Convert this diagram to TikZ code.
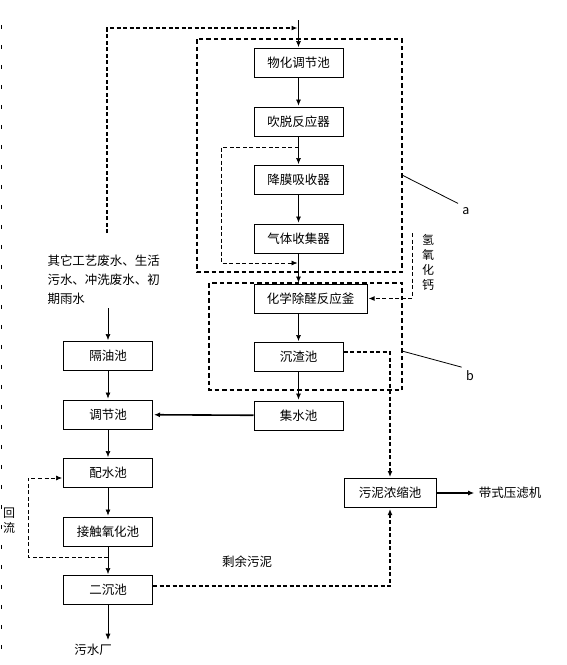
\documentclass[tikz,border=0pt]{standalone}
\usepackage{fontspec}
\setmainfont{Noto Sans CJK SC}
\usetikzlibrary{arrows.meta,positioning}

\begin{document}
\begin{tikzpicture}[x=1pt,y=-1pt,>={Latex[length=6pt,width=5pt]},
    shorten >=1pt,node distance=58.5pt,on grid,
    font=\fontsize{12.5}{15}\selectfont,
    pool/.style={draw,line width=1pt,minimum width=89pt,minimum height=29pt,inner sep=1pt},
    flow/.style={->,line width=0.6pt},
    pipe/.style={->,line width=1.6pt},
    feed/.style={line width=1.3pt,dash pattern=on 4pt off 2.5pt},
    back/.style={line width=0.7pt,dash pattern=on 4pt off 2.5pt},
    zone/.style={line width=1.6pt,dash pattern=on 4.5pt off 3pt}]
  \useasboundingbox (0,0) rectangle (567,665);
  % treatment column
  \node[pool] (phys)                 at (298.5,63)              {物化调节池};
  \node[pool] (strip)                [below=of phys]            {吹脱反应器};
  \node[pool] (absorb)               [below=of strip]           {降膜吸收器};
  \node[pool] (gas)                  [below=of absorb]          {气体收集器};
  \node[pool,minimum width=113pt] (chem) [below=60pt of gas,xshift=12pt] {化学除醛反应釜};
  \node[pool] (sett)                 [below=of chem,xshift=-12pt] {沉渣池};
  \node[pool] (coll)                 [below=of sett]            {集水池};
  % other wastewater column
  \node[pool] (oil)                  at (108,356)               {隔油池};
  \node[pool] (equal)                [below=of oil]             {调节池};
  \node[pool] (distr)                [below=of equal]           {配水池};
  \node[pool] (contact)              [below=of distr]           {接触氧化池};
  \node[pool] (sec)                  [below=of contact]         {二沉池};
  \node[pool,minimum width=92pt] (thick) at (390,493)           {污泥浓缩池};
  % texts
  \node[text width=118pt,align=left,font=\fontsize{12.5}{19}\selectfont]
       (other) at (106.5,280) {其它工艺废水、生活\\污水、冲洗废水、初\\期雨水};
  \node (outlet) at (93,650)  {污水厂};
  \node (press)  at (510,493) {带式压滤机};
  \node (excess) at (247,562) {剩余污泥};
  \node[align=center,inner sep=0pt,font=\fontsize{12}{15}\selectfont] (lime) at (428,262) {氢\\氧\\化\\钙};
  \node[align=center,inner sep=0pt,font=\fontsize{12}{15}\selectfont] (reflux) at (9,521) {回\\流};
  \node (labA) at (466,211) {a};
  \node (labB) at (470,376) {b};
  \coordinate (intake) at (298.5,20);
  \coordinate (merge)  at (298.5,28);
  \coordinate (bypass) at (107,233);
  \coordinate (loopA)  at (298.5,147);
  \coordinate (loopB)  at (298.5,263);
  \coordinate (ret)    at (108,557);
  \coordinate (limein) at (412,233);
  % zones a and b
  \draw[zone] (197,39) rectangle (402,272);
  \draw[zone] (209,283) rectangle (402,390);
  \draw[line width=0.8pt] (402,175) -- (labA.north west);
  \draw[line width=0.8pt] (402,351) -- (labB.north west);
  % page margin
  \draw[line width=1.5pt,dash pattern=on 4pt off 16pt] (1.5,25) -- (1.5,665);
  % main flow
  \draw[flow] (intake) -- (phys);
  \draw[flow] (phys) -- (strip);
  \draw[flow] (strip) -- (absorb);
  \draw[flow] (absorb) -- (gas);
  \draw[flow] (gas) -- (gas |- chem.north);
  \draw[flow] (chem.south -| sett) -- (sett);
  \draw[flow] (sett) -- (coll);
  \draw[pipe] (coll) -- (equal);
  \draw[flow] (other.south -| oil) -- (oil);
  \draw[flow] (oil) -- (equal);
  \draw[flow] (equal) -- (distr);
  \draw[flow] (distr) -- (contact);
  \draw[flow] (contact) -- (sec);
  \draw[flow] (sec) -- (sec |- outlet.north);
  \draw[pipe] (thick) -- (press);
  % dashed lines
  \draw[feed,->] (bypass) |- (merge);
  \draw[back,->] (loopA) -| (221,205) |- (loopB);
  \draw[back,->] (ret) -- ++(-80,0) |- ([yshift=-5pt]distr.west);
  \draw[back] (limein) -- (limein |- chem.east);
  \draw[feed,->] (limein |- chem.east) -- (chem.east);
  \draw[feed,->] ([yshift=5pt]sett.east) -| (thick);
  \draw[feed,->] ([yshift=4pt]sec.east) -| (thick);
\end{tikzpicture}
\end{document}
